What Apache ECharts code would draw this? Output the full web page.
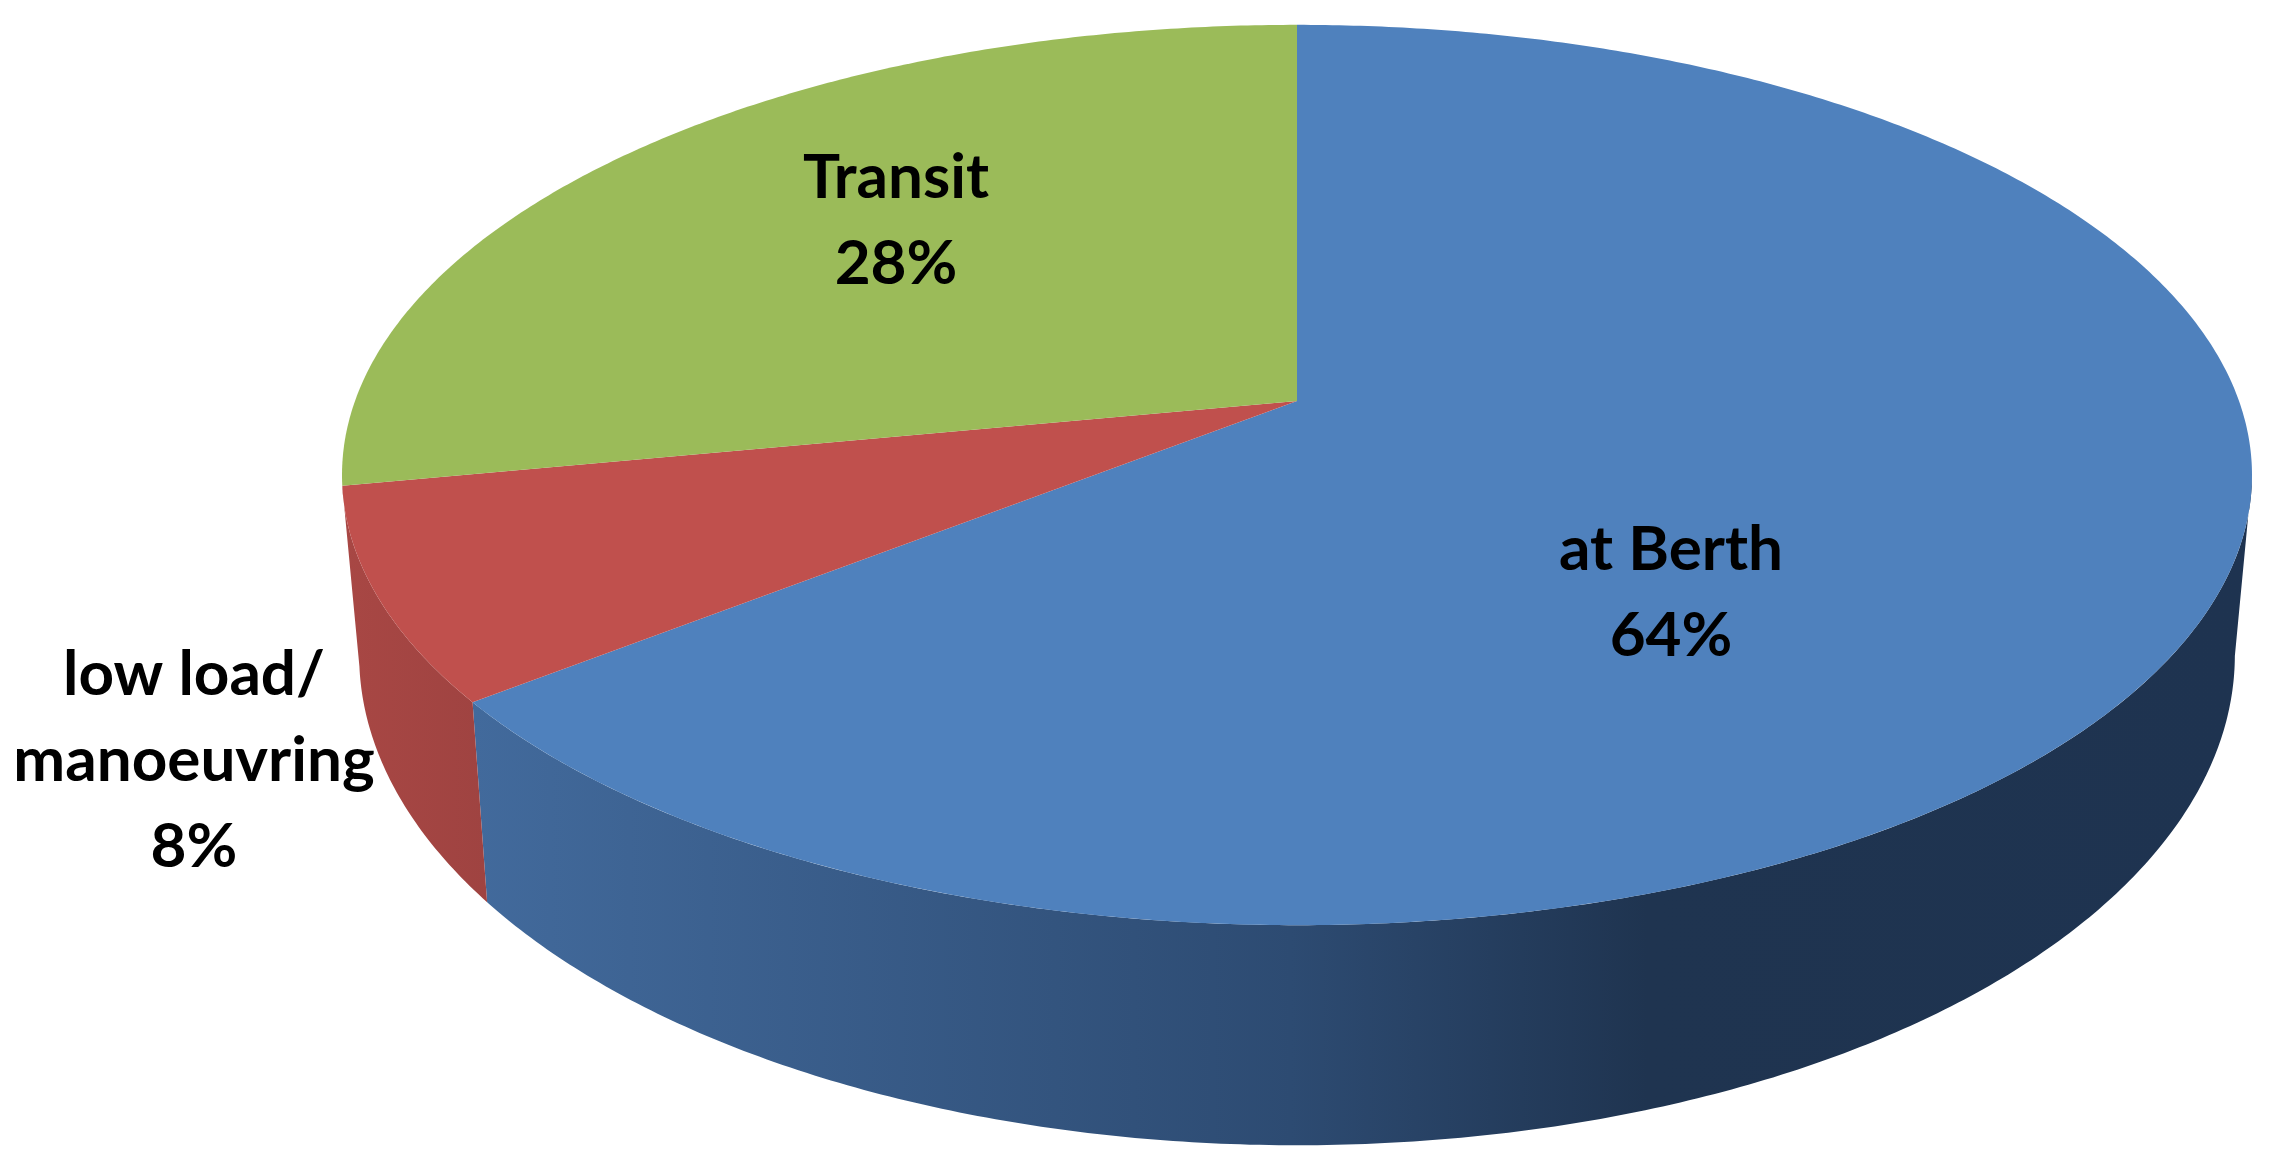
<!DOCTYPE html>
<html>
<head>
<meta charset="utf-8">
<style>html,body{margin:0;padding:0;background:#fff}#c{width:2285px;height:1164px}</style>
<script src="https://cdn.jsdelivr.net/npm/echarts@6/dist/echarts.min.js"></script>
</head>
<body>
<div id="c"></div>
<script>
// data
const categories = ['at Berth', 'low load/\nmanoeuvring', 'Transit'];
const shares = [64.4, 7.6, 28];

// style and layout
const topColors = ['#4f81bd', '#c0504d', '#9bbb59'];
const wallStops = [
  [[0, '#426a9c'], [0.46, '#2d4b72'], [0.66, '#1f3450'], [1, '#1e3350']],
  [[0, '#a84744'], [1, '#9f4341']],
  [[0, '#7f9a49'], [1, '#7f9a49']]
];
const labelAnchors = [[1671, 593], [194, 761], [896, 221]];
const FONT = 'Lato, Carlito, Calibri, sans-serif';
const TOP = {cx: 1297, y0: 401, R: 942, S: 438, k: 0.1644};
const LOW = {cx: 1297, y0: 574, R: 925, S: 477, k: 0.1650};
// fractions of the turn where the side wall meets the pie's outline
const WALL_FROM = 0.2767, WALL_TO = 0.72;
const TOTAL = shares.reduce((a, b) => a + b, 0);

// perspective view of a circle: fraction runs clockwise from 12 o'clock
function project(ring, frac) {
  const a = frac * 2 * Math.PI, u = Math.sin(a), v = -Math.cos(a), d = 1 - ring.k * v;
  return [ring.cx + ring.R * u / d, ring.y0 + ring.S * v / d];
}
function arc(ring, f0, f1) {
  const n = Math.max(2, Math.ceil((f1 - f0) * 720)), pts = [];
  for (let i = 0; i <= n; i++) pts.push(project(ring, f0 + (f1 - f0) * i / n));
  return pts;
}

function renderItem(params, api) {
  const i = params.dataIndex;
  let before = 0;
  for (let j = 0; j < i; j++) before += shares[j];
  const f0 = before / TOTAL, f1 = (before + api.value(0)) / TOTAL;
  const children = [];
  // side wall: only the part facing the viewer
  const w0 = Math.max(f0, WALL_FROM), w1 = Math.min(f1, WALL_TO);
  if (w1 > w0) {
    const pts = arc(TOP, w0, w1).concat(arc(LOW, w0, w1).reverse());
    children.push({
      type: 'polygon', z2: 1,
      shape: {points: pts},
      style: {fill: new echarts.graphic.LinearGradient(0, 0, 1, 0,
        wallStops[i].map(s => ({offset: s[0], color: s[1]})))}
    });
  }
  // top face
  children.push({
    type: 'polygon', z2: 2,
    shape: {points: [[TOP.cx, TOP.y0]].concat(arc(TOP, f0, f1))},
    style: {fill: topColors[i]}
  });
  // label
  children.push({
    type: 'text', z2: 3,
    style: {
      text: categories[i] + '\n' + Math.round(api.value(0)) + '%',
      x: labelAnchors[i][0], y: labelAnchors[i][1],
      textAlign: 'center', textVerticalAlign: 'middle',
      fontFamily: FONT, fontSize: 62, fontWeight: 'bold', lineHeight: 86, fill: '#000'
    }
  });
  return {type: 'group', children};
}

const chart = echarts.init(document.getElementById('c'), null, {renderer: 'canvas'});
chart.setOption({
  animation: false,
  backgroundColor: '#fff',
  series: [{
    type: 'custom',
    coordinateSystem: 'none',
    renderItem,
    data: shares.map((v, i) => [v, i])
  }]
});
</script>
</body>
</html>
